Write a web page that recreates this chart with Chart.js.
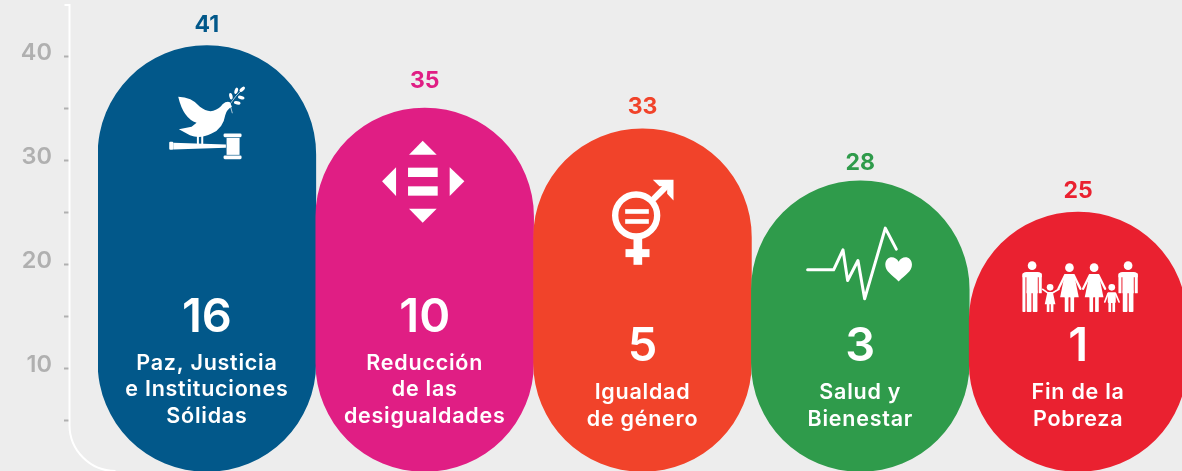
<!DOCTYPE html>
<html><head><meta charset="utf-8">
<style>html,body{margin:0;padding:0;background:#ededed;overflow:hidden;width:1182px;height:471px}canvas{display:block}</style>
<script src="https://cdn.jsdelivr.net/npm/chart.js@4"></script>
</head><body><canvas id="c" width="1200" height="480"></canvas>
<script>
const categories = ["Paz, Justicia e Instituciones Sólidas","Reducción de las desigualdades","Igualdad de género","Salud y Bienestar","Fin de la Pobreza"];
const values = [41,35,33,28,25];
const colors = ["#02588a","#e01e84","#f1432a","#2f9b4b","#ea2130"];
const goalNumbers = ["16","10","5","3","1"];
const goalLines = [["Paz, Justicia","e Instituciones","Sólidas"],["Reducción","de las","desigualdades"],["Igualdad","de género"],["Salud y","Bienestar"],["Fin de la","Pobreza"]];
const valueLabelLift = [14,20,15,11,14];
const FONT = 'Inter, sans-serif';

function poly(ctx, pts){ctx.beginPath();pts.forEach((p,i)=>i?ctx.lineTo(p[0],p[1]):ctx.moveTo(p[0],p[1]));ctx.closePath();ctx.fill();}
function rr(ctx,x,y,w,h,r){ctx.beginPath();ctx.roundRect(x,y,w,h,r);ctx.fill();}
function circ(ctx,x,y,r){ctx.beginPath();ctx.arc(x,y,r,0,Math.PI*2);ctx.fill();}
function line(ctx,pts,w){ctx.lineWidth=w;ctx.lineCap='round';ctx.lineJoin='round';ctx.beginPath();pts.forEach((p,i)=>i?ctx.lineTo(p[0],p[1]):ctx.moveTo(p[0],p[1]));ctx.stroke();}

const icons = [
 {dx:-57,dy:34.6,draw(ctx){
  ctx.beginPath();ctx.moveTo(85,50);ctx.quadraticCurveTo(125,50,150,80);ctx.quadraticCurveTo(170,96,190,92);ctx.quadraticCurveTo(210,84,218,72);ctx.quadraticCurveTo(230,62,240,66);ctx.lineTo(246,80);ctx.quadraticCurveTo(230,88,226,105);ctx.quadraticCurveTo(220,145,185,160);ctx.quadraticCurveTo(150,178,120,165);ctx.lineTo(87,147);ctx.lineTo(125,140);ctx.lineTo(140,128);ctx.quadraticCurveTo(100,115,85,50);ctx.closePath();ctx.fill();
  rr(ctx,141,165,6,27,1);rr(ctx,154,165,6,27,1);
  poly(ctx,[[70,188],[228,193],[228,203],[70,208]]);rr(ctx,58,185,12,24,3);
  ctx.fillRect(230,173,39,51);rr(ctx,221,160,54,11,4);rr(ctx,221,226,54,11,4);
  line(ctx,[[247,98],[240,72],[258,48],[277,28]],2);
  [[243,48,-.2],[259,32,.3],[277,27,.8],[274,52,-1.3],[262,68,-1.4]].forEach(l=>{ctx.beginPath();ctx.ellipse(l[0],l[1],5,10,l[2],0,Math.PI*2);ctx.fill();});
 }},
 {dx:-55,dy:22,draw(ctx){
  poly(ctx,[[159,32],[201,74],[118,74]]);poly(ctx,[[118,236],[201,236],[159,278]]);
  poly(ctx,[[37,154],[79,112],[79,198]]);poly(ctx,[[240,112],[284,154],[240,198]]);
  ctx.fillRect(115,113,89,28);ctx.fillRect(115,169,89,28);
 }},
 {dx:-43,dy:41,draw(ctx){
  ctx.lineWidth=19;ctx.beginPath();ctx.arc(110,137,63,0,Math.PI*2);ctx.stroke();
  ctx.fillRect(77,118,71,14);ctx.fillRect(77,148,71,14);
  ctx.fillRect(102,205,26,80);ctx.fillRect(78,238,72,24);
  ctx.lineCap='butt';line(ctx,[[165,85],[205,45]],19);
  poly(ctx,[[160,30],[222,30],[222,92],[203,72],[203,49],[180,49]]);
 }},
 {dx:-65,dy:39,draw(ctx){
  line(ctx,[[37,150],[115,150],[143,90],[157,182],[188,122],[208,237],[270,25],[303,88]],9);
  ctx.beginPath();ctx.moveTo(310,185);ctx.bezierCurveTo(290,165,270,155,270,135);ctx.bezierCurveTo(270,108,300,105,310,126);ctx.bezierCurveTo(320,105,350,108,350,135);ctx.bezierCurveTo(350,155,330,165,310,185);ctx.closePath();ctx.fill();
 }},
 {dx:-68,dy:38,draw(ctx){
  const man=(cx,leftCane)=>{
    circ(ctx,cx,47,13);rr(ctx,cx-17,66,34,64,[10,10,0,0]);
    rr(ctx,cx-16,120,14,66,2);rr(ctx,cx+2,120,14,66,2);
    rr(ctx,cx-29,66,24,16,[12,0,0,0]);rr(ctx,cx+5,66,24,16,[0,12,0,0]);
    rr(ctx,cx-29,70,9,leftCane?116:60,2);rr(ctx,cx+20,70,9,60,2);
  };
  const woman=(cx)=>{
    circ(ctx,cx,53,13);poly(ctx,[[cx-14,72],[cx+14,72],[cx+28,142],[cx-28,142]]);
    rr(ctx,cx-14,140,11,46,2);rr(ctx,cx+3,140,11,46,2);
    line(ctx,[[cx-13,76],[cx-33,116]],7);line(ctx,[[cx+13,76],[cx+33,116]],7);
  };
  man(66,true);woman(178);woman(252);man(354,false);
  circ(ctx,120,112,10);poly(ctx,[[112,126],[128,126],[136,163],[104,163]]);
  ctx.fillRect(110,160,8,26);ctx.fillRect(122,160,8,26);
  line(ctx,[[112,128],[98,118]],5);line(ctx,[[128,128],[146,118]],5);
  circ(ctx,305,112,10);rr(ctx,293,127,24,32,3);ctx.fillRect(295,155,8,31);ctx.fillRect(307,155,8,31);
  line(ctx,[[294,130],[284,156]],5);line(ctx,[[316,130],[327,156]],5);
 }}
];

const overlay = {
 id:'overlay',
 afterLayout(chart){const y=chart.scales.y;y.left=0;y.right=69;},
 beforeDatasetsDraw(chart){
  const ctx=chart.ctx,y=chart.scales.y,x=y.right+.5,r=46,b=y.bottom-1;
  ctx.save();ctx.strokeStyle='#ffffff';ctx.lineWidth=2;ctx.beginPath();
  ctx.moveTo(x-5,y.top+1);ctx.lineTo(x,y.top+1);ctx.lineTo(x,b-r);ctx.arcTo(x,b,x+r,b,r);ctx.stroke();ctx.restore();
 },
 afterDatasetsDraw(chart){
  const ctx=chart.ctx,bars=chart.getDatasetMeta(0).data,bottom=chart.scales.y.bottom;
  ctx.save();ctx.textAlign='center';ctx.textBaseline='alphabetic';
  bars.forEach((bar,i)=>{
    ctx.letterSpacing='0px';
    ctx.fillStyle=colors[i];ctx.font='700 23px '+FONT;
    ctx.fillText(String(values[i]),bar.x,bar.y-valueLabelLift[i]);
    const lines=goalLines[i],n=lines.length;
    const last=bottom-(n===3?49.5:46.5);
    ctx.fillStyle='#fff';ctx.font='600 21.5px '+FONT;ctx.letterSpacing='0.75px';
    lines.forEach((t,k)=>ctx.fillText(t,bar.x,last-(n-1-k)*26.5));
    ctx.letterSpacing='0px';
    ctx.font='600 47px '+FONT;
    ctx.fillText(goalNumbers[i],bar.x,last-(n-1)*26.5-38);
    const ic=icons[i];
    ctx.save();ctx.translate(bar.x+ic.dx,bar.y+ic.dy);ctx.scale(1/3,1/3);ctx.fillStyle='#fff';ctx.strokeStyle='#fff';ic.draw(ctx);ctx.restore();
  });
  ctx.restore();
 }
};

new Chart(document.getElementById('c'),{
 type:'bar',
 data:{labels:categories,datasets:[{data:values,backgroundColor:colors,borderWidth:0,borderRadius:200,borderSkipped:false,barPercentage:1,categoryPercentage:1}]},
 options:{
  responsive:false,animation:false,devicePixelRatio:1,
  layout:{padding:{top:4,right:13,bottom:8,left:0}},
  plugins:{legend:{display:false},tooltip:{enabled:false}},
  scales:{
   x:{display:false},
   y:{min:0,max:45,afterFit(s){s.width=98;s.paddingTop=0;s.paddingBottom=0;},
    border:{display:false},
    grid:{drawOnChartArea:false,tickLength:5,tickWidth:2,tickColor:c=>(c.tick&&c.tick.value%45===0)?'rgba(0,0,0,0)':'#b0b0b0'},
    ticks:{stepSize:5,autoSkip:false,padding:12,labelOffset:-3.5,color:'#b0b0b0',font:{family:FONT,size:23.5,weight:'600'},
      callback:v=>(v%10===0&&v>0)?String(v):''}
   }
  }
 },
 plugins:[overlay]
});
</script></body></html>
